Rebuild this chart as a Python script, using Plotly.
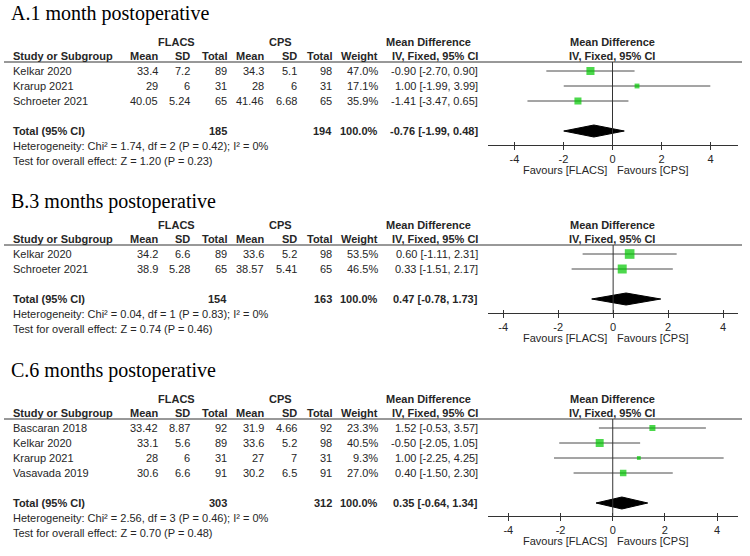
import plotly.graph_objects as go

# ---------------- data ----------------
a_studies = ["Kelkar 2020", "Krarup 2021", "Schroeter 2021"]
a_flacs_mean = [33.4, 29, 40.05]
a_flacs_sd = [7.2, 6, 5.24]
a_flacs_n = [89, 31, 65]
a_cps_mean = [34.3, 28, 41.46]
a_cps_sd = [5.1, 6, 6.68]
a_cps_n = [98, 31, 65]
a_weight = [47.0, 17.1, 35.9]
a_md = [-0.90, 1.00, -1.41]
a_lo = [-2.70, -1.99, -3.47]
a_hi = [0.90, 3.99, 0.65]
a_total = [185, 194, -0.76, -1.99, 0.48]      # n FLACS, n CPS, MD, lo, hi
a_stats = [1.74, 2, 0.42, 0, 1.20, 0.23]       # Chi2, df, P, I2, Z, P

b_studies = ["Kelkar 2020", "Schroeter 2021"]
b_flacs_mean = [34.2, 38.9]
b_flacs_sd = [6.6, 5.28]
b_flacs_n = [89, 65]
b_cps_mean = [33.6, 38.57]
b_cps_sd = [5.2, 5.41]
b_cps_n = [98, 65]
b_weight = [53.5, 46.5]
b_md = [0.60, 0.33]
b_lo = [-1.11, -1.51]
b_hi = [2.31, 2.17]
b_total = [154, 163, 0.47, -0.78, 1.73]
b_stats = [0.04, 1, 0.83, 0, 0.74, 0.46]

c_studies = ["Bascaran 2018", "Kelkar 2020", "Krarup 2021", "Vasavada 2019"]
c_flacs_mean = [33.42, 33.1, 28, 30.6]
c_flacs_sd = [8.87, 5.6, 6, 6.6]
c_flacs_n = [92, 89, 31, 91]
c_cps_mean = [31.9, 33.6, 27, 30.2]
c_cps_sd = [4.66, 5.2, 7, 6.5]
c_cps_n = [92, 98, 31, 91]
c_weight = [23.3, 40.5, 9.3, 27.0]
c_md = [1.52, -0.50, 1.00, 0.40]
c_lo = [-0.53, -2.05, -2.25, -1.50]
c_hi = [3.57, 1.05, 4.25, 2.30]
c_total = [303, 312, 0.35, -0.64, 1.34]
c_stats = [2.56, 3, 0.46, 0, 0.70, 0.48]

titles = ["A.1 month postoperative", "B.3 months postoperative", "C.6 months postoperative"]
tick_vals = [-4, -2, 0, 2, 4]
tick_text = ["-4", "-2", "0", "2", "4"]

# ---------------- layout constants (pixels) ----------------
W, H = 750, 556
ROW = 15
FONT = "Liberation Sans, Arial, sans-serif"
SERIF = "Liberation Serif, Times New Roman, serif"
TXT = "#262626"
GREEN = "#00c800"
PLOT_X0, PLOT_X1 = 488, 738

# per panel: title y, first row y, axis line y, x range
panel_geo = [
    dict(title=13, row0=71, axis=145, xr=[-5.08, 5.12]),
    dict(title=201, row0=254, axis=313, xr=[-4.55, 4.54]),
    dict(title=370, row0=428, axis=516, xr=[-4.78, 4.80]),
]

panels = [
    (a_studies, a_flacs_mean, a_flacs_sd, a_flacs_n, a_cps_mean, a_cps_sd, a_cps_n,
     a_weight, a_md, a_lo, a_hi, a_total, a_stats),
    (b_studies, b_flacs_mean, b_flacs_sd, b_flacs_n, b_cps_mean, b_cps_sd, b_cps_n,
     b_weight, b_md, b_lo, b_hi, b_total, b_stats),
    (c_studies, c_flacs_mean, c_flacs_sd, c_flacs_n, c_cps_mean, c_cps_sd, c_cps_n,
     c_weight, c_md, c_lo, c_hi, c_total, c_stats),
]

# right edges of the numeric columns
COL_R = [158, 190, 227, 264, 297, 332, 378, 478]

fig = go.Figure()
annotations = []
shapes = []
layout_axes = {}


def txt(text, x, yref, y, anchor="left", bold=False, size=11, family=FONT, color=TXT):
    if bold:
        text = "<b>" + text + "</b>"
    annotations.append(dict(
        text=text, x=x / W, xref="paper", y=y, yref=yref,
        xanchor=anchor, yanchor="middle", showarrow=False,
        borderpad=0, borderwidth=0,
        font=dict(family=family, size=size, color=color)))


def ci(md, lo, hi):
    return f"{md:.2f} [{lo:.2f}, {hi:.2f}]"


for i, (geo, data, title) in enumerate(zip(panel_geo, panels, titles), start=1):
    (studies, fm, fsd, fn, cm, csd, cn, wt, md, lo, hi, tot, st) = data
    xname = "x" if i == 1 else f"x{i}"
    yname = "y" if i == 1 else f"y{i}"
    r0 = geo["row0"]

    def row(py):
        return (py - r0) / ROW

    unit = (PLOT_X1 - PLOT_X0) / (geo["xr"][1] - geo["xr"][0])
    n = len(studies)
    total_row = n + 1

    layout_axes["xaxis" if i == 1 else f"xaxis{i}"] = dict(
        domain=[PLOT_X0 / W, PLOT_X1 / W], range=geo["xr"],
        anchor="free", position=1 - geo["axis"] / H,
        showline=True, linecolor="#333333", linewidth=1,
        tickmode="array", tickvals=tick_vals, ticktext=tick_text,
        ticks="outside", ticklen=4, tickwidth=1, tickcolor="#333333",
        minor=dict(tickmode="array", tickvals=tick_vals, ticks="inside",
                   ticklen=3, tickwidth=1, tickcolor="#333333"),
        showgrid=False, zeroline=False, fixedrange=True,
        tickfont=dict(family=FONT, size=11, color=TXT))
    # y in row units, mapped so row 0 sits at r0 pixels from the top
    layout_axes["yaxis" if i == 1 else f"yaxis{i}"] = dict(
        domain=[0, 1], range=[(H - r0) / ROW, -r0 / ROW],
        visible=False, anchor=xname, fixedrange=True)

    # title
    txt(title, 11, yname, row(geo["title"]), family=SERIF, size=20, color="#000000")

    # headers
    h1, h2 = row(r0 - 29), row(r0 - 15)
    txt("FLACS", 176, yname, h1, anchor="center", bold=True)
    txt("CPS", 280, yname, h1, anchor="center", bold=True)
    txt("Mean Difference", 428, yname, h1, anchor="center", bold=True)
    txt("Mean Difference", 612, yname, h1, anchor="center", bold=True)
    txt("Study or Subgroup", 13, yname, h2, bold=True)
    for lab, xr in zip(["Mean", "SD", "Total", "Mean", "SD", "Total", "Weight"], COL_R):
        txt(lab, xr, yname, h2, anchor="right", bold=True)
    txt("IV, Fixed, 95% CI", 478, yname, h2, anchor="right", bold=True)
    txt("IV, Fixed, 95% CI", 612, yname, h2, anchor="center", bold=True)

    line_y = row(r0 - 9)
    shapes.append(dict(type="line", xref="paper", yref=yname, x0=4 / W, x1=742 / W,
                       y0=line_y, y1=line_y, line=dict(color="#333333", width=1)))

    # study rows
    for k in range(n):
        vals = [f"{fm[k]:g}", f"{fsd[k]:g}", f"{fn[k]}", f"{cm[k]:g}", f"{csd[k]:g}",
                f"{cn[k]}", f"{wt[k]:.1f}%", ci(md[k], lo[k], hi[k])]
        txt(studies[k], 13, yname, k)
        for v, xr in zip(vals, COL_R):
            txt(v, xr, yname, k, anchor="right")

    # total row
    txt("Total (95% CI)", 13, yname, total_row, bold=True)
    txt(f"{tot[0]}", COL_R[2], yname, total_row, anchor="right", bold=True)
    txt(f"{tot[1]}", COL_R[5], yname, total_row, anchor="right", bold=True)
    txt("100.0%", COL_R[6], yname, total_row, anchor="right", bold=True)
    txt(ci(tot[2], tot[3], tot[4]), COL_R[7], yname, total_row, anchor="right", bold=True)

    txt(f"Heterogeneity: Chi² = {st[0]:.2f}, df = {st[1]} (P = {st[2]:.2f}); I² = {st[3]}%",
        13, yname, total_row + 1)
    txt(f"Test for overall effect: Z = {st[4]:.2f} (P = {st[5]:.2f})",
        13, yname, total_row + 2)

    # favours labels
    fav_y = row(geo["axis"] + 25)
    txt("Favours [FLACS]", 607, yname, fav_y, anchor="right")
    txt("Favours [CPS]", 617, yname, fav_y)

    # zero line
    shapes.append(dict(type="line", xref=xname, yref=yname, x0=0, x1=0,
                       y0=line_y, y1=row(geo["axis"]),
                       line=dict(color="#333333", width=1)))

    # CI whiskers
    xs, ys = [], []
    for k in range(n):
        xs += [lo[k], hi[k], None]
        ys += [k, k, None]
    fig.add_trace(go.Scatter(x=xs, y=ys, mode="lines", xaxis=xname, yaxis=yname,
                             line=dict(color="#4a4a4a", width=1),
                             hoverinfo="skip", showlegend=False))

    # weight squares
    fig.add_trace(go.Scatter(
        x=md, y=list(range(n)), mode="markers", xaxis=xname, yaxis=yname,
        marker=dict(symbol="square", color=GREEN,
                    size=[1.2 * w ** 0.5 * unit / 25 for w in wt], line=dict(width=0)),
        showlegend=False))

    # pooled diamond
    fig.add_trace(go.Scatter(
        x=[tot[3], tot[2], tot[4], tot[2], tot[3]],
        y=[total_row, total_row - 0.4, total_row, total_row + 0.4, total_row],
        mode="lines", fill="toself", fillcolor="#000000",
        line=dict(color="#000000", width=1), xaxis=xname, yaxis=yname,
        showlegend=False))

fig.update_layout(
    width=W, height=H,
    margin=dict(l=0, r=0, t=0, b=0),
    paper_bgcolor="white", plot_bgcolor="rgba(0,0,0,0)",
    showlegend=False,
    annotations=annotations, shapes=shapes,
    **layout_axes)

# drop the browser's default 8px body margin so the figure fills the window exactly
fig.write_html("out.html", config={"displayModeBar": False},
               post_script="document.body.style.margin = '0';")
